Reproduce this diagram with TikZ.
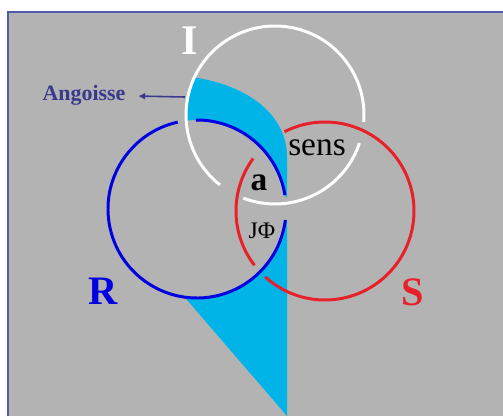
\documentclass[tikz,border=0pt]{standalone}
\usepackage{fontspec}
\setmainfont{Liberation Serif}
\usetikzlibrary{arrows.meta}
\definecolor{bggray}{RGB}{179,179,179}
\definecolor{framecol}{RGB}{80,90,168}
\definecolor{cyanband}{RGB}{0,180,232}
\definecolor{ringblue}{RGB}{0,0,225}
\definecolor{ringred}{RGB}{232,32,42}
\definecolor{angcol}{RGB}{58,58,140}
\tikzset{
  ring/.style={line width=1.7pt},
  ringI/.style={ring,white},
  ringR/.style={ring,ringblue},
  ringS/.style={ring,ringred},
  bigletter/.style={font=\fontsize{23}{23}\selectfont\bfseries,inner sep=0pt}
}
\begin{document}
\begin{tikzpicture}[x=0.02cm,y=0.02cm]
  \useasboundingbox (0,0) rectangle (503,416);
  \fill[white] (0,0) rectangle (503,416);
  \fill[bggray] (8,0) rectangle (503,404);
  \draw[framecol,line width=1.2pt] (8,0) -- (8,404) -- (503,404);
  % centres of the three rings
  \coordinate (cI) at (275,301);
  \coordinate (cR) at (197,207);
  \coordinate (cS) at (325,205);
  % cyan band
  \fill[cyanband] ([shift={(155:89)}]cI) arc[start angle=155, end angle=184, radius=89]
    -- ([shift={(96:89)}]cR) arc[start angle=96, end angle=8, radius=89]
    -- (287,219) -- (287,259)
    .. controls (287,300) and (250,330) .. ([shift={(155:89)}]cI) -- cycle;
  \fill[cyanband] (287,0) -- ([shift={(262:89)}]cR) arc[start angle=262, end angle=352, radius=89]
    -- (287,195) -- cycle;
  % rings
  \draw[ringI] ([shift={(-4.5:89)}]cI) arc[start angle=-4.5, end angle=231.8, radius=89];
  \draw[ringI] ([shift={(249.1:89)}]cI) arc[start angle=249.1, end angle=341.6, radius=89];
  \draw[ringR] ([shift={(102.5:89)}]cR) arc[start angle=102.5, end angle=352.9, radius=89];
  \draw[ringR] ([shift={(9:89)}]cR) arc[start angle=9, end angle=90.7, radius=89];
  \draw[ringS] ([shift={(143.9:89)}]cS) arc[start angle=143.9, end angle=217.6, radius=89];
  \draw[ringS] ([shift={(227.7:89)}]cS) arc[start angle=227.7, end angle=477.1, radius=89];
  % labels
  \node[bigletter,white,font=\fontsize{24}{24}\selectfont\bfseries] (labI) at (190,375) {I};
  \node[bigletter,ringblue] (labR) at (103,125) {R};
  \node[bigletter,ringred] (labS) at (413,124) {S};
  \node[inner sep=0pt,font=\fontsize{19}{19}\selectfont] (sens) at (317,268) {sens};
  \node[inner sep=0pt,font=\fontsize{19}{19}\selectfont\bfseries] (obja) at (259,233) {a};
  \node[inner sep=0pt,font=\fontsize{13.5}{13.5}\selectfont] (jphi) at (262,185) {JΦ};
  \node[inner ysep=0pt,inner xsep=7pt,angcol,font=\fontsize{12.5}{12.5}\selectfont\bfseries] (angoisse) at (84,321) {Angoisse};
  \coordinate (angfrom) at (185,319);
  \draw[angcol,line width=0.9pt,-{Latex[length=4pt,width=4pt]}] (angfrom) -- (angoisse);
\end{tikzpicture}
\end{document}
